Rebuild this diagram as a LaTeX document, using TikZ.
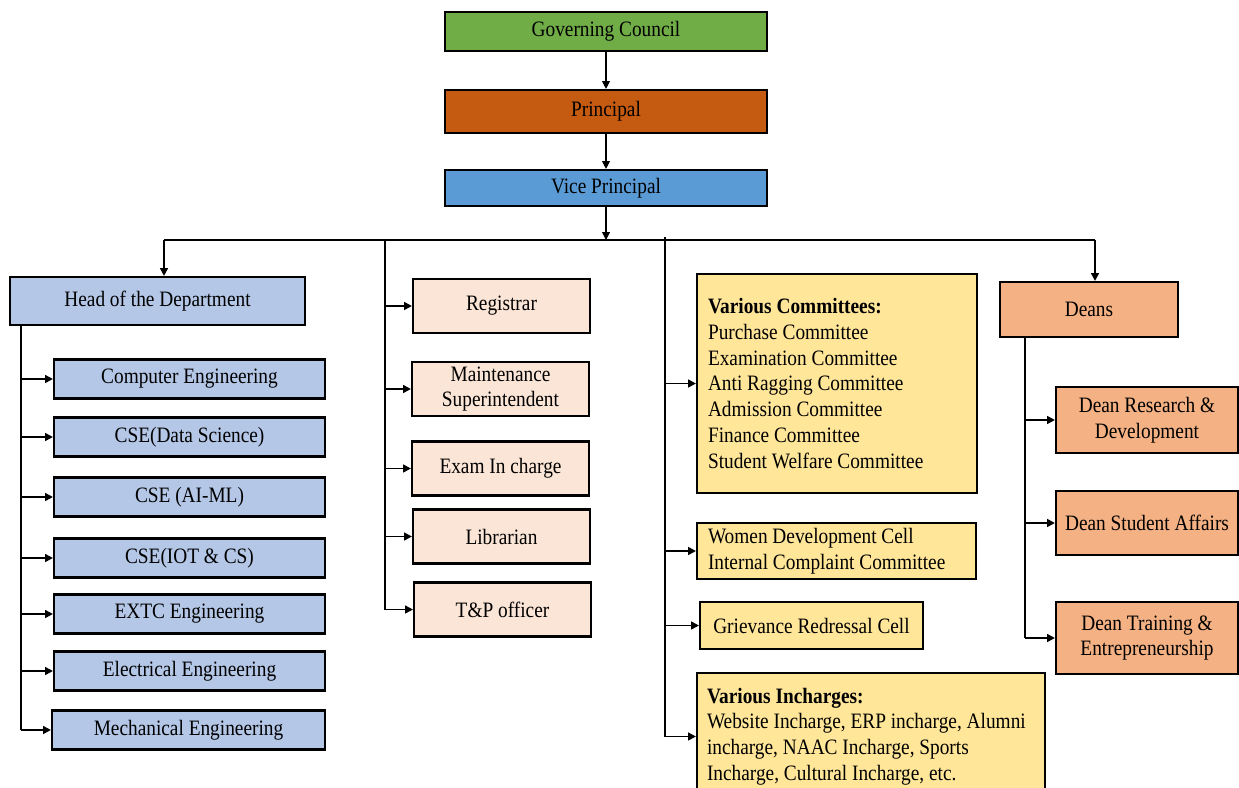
\documentclass[tikz,border=0pt]{standalone}
\usepackage{fontspec}
\setmainfont{Liberation Serif}[FakeStretch=0.88]
\usetikzlibrary{arrows.meta}

\definecolor{councilgreen}{HTML}{70AD47}
\definecolor{principalorange}{HTML}{C55A11}
\definecolor{viceblue}{HTML}{5B9BD5}
\definecolor{deptblue}{HTML}{B4C7E7}
\definecolor{officepeach}{HTML}{FBE5D6}
\definecolor{cellyellow}{HTML}{FFE699}
\definecolor{deanorange}{HTML}{F4B183}

\begin{document}
\begin{tikzpicture}[
  every node/.style={
    draw,
    rectangle,
    line width=1.2pt,
    inner sep=1pt,
    align=center,
    font=\fontsize{12.5pt}{14.7pt}\selectfont
  },
  topbox/.style={minimum width=6.44cm},
  deptbox/.style={fill=deptblue,minimum width=5.42cm,minimum height=0.78cm},
  officebox/.style={fill=officepeach,minimum width=3.54cm,minimum height=1.08cm},
  cellbox/.style={fill=cellyellow,align=flush left,inner xsep=0.22cm},
  deanbox/.style={fill=deanorange,minimum width=3.64cm},
  thinarrow/.style={line width=0.6pt,-{Triangle[length=4.5pt,width=4.5pt]}},
  branch/.style={line width=1pt},
  link/.style={line width=1pt,-{Triangle[length=4.5pt,width=4.5pt]}}
]
\clip (0,0) rectangle (24.78,-15.74);

% top of the chart
\node[topbox,fill=councilgreen,minimum height=0.78cm] at (12.12,-0.63) (council) {Governing Council};
\node[topbox,fill=principalorange,minimum height=0.86cm] at (12.12,-2.23) (principal) {Principal};
\node[topbox,fill=viceblue,minimum height=0.72cm] at (12.12,-3.76) (vice) {Vice Principal};

\coordinate (busL) at (3.28,-4.8);
\coordinate (busR) at (21.9,-4.8);
\coordinate (midline) at (7.7,-4.8);
\coordinate (cellline) at (13.3,-4.74);

% heads of department
\node[fill=deptblue,minimum width=5.9cm,minimum height=0.96cm] at (3.15,-6.02) (hod) {Head of the Department};
\node[deptbox] at (3.79,-7.58) (comp) {Computer Engineering};
\node[deptbox] at (3.79,-8.74) (csds) {CSE(Data Science)};
\node[deptbox] at (3.79,-9.94) (csai) {CSE (AI-ML)};
\node[deptbox] at (3.79,-11.16) (csiot) {CSE(IOT \& CS)};
\node[deptbox] at (3.79,-12.28) (extc) {EXTC Engineering};
\node[deptbox] at (3.79,-13.42) (elec) {Electrical Engineering};
\node[deptbox,minimum width=5.46cm] at (3.77,-14.6) (mech) {Mechanical Engineering};
\coordinate (hodline) at ([xshift=0.24cm]hod.south west);

% offices
\node[officebox] at (10.03,-6.12) (registrar) {Registrar};
\node[officebox] at (10.01,-7.78) (maint) {Maintenance\\Superintendent};
\node[officebox] at (10.01,-9.37) (exam) {Exam In charge};
\node[officebox] at (10.03,-10.73) (librarian) {Librarian};
\node[officebox] at (10.05,-12.19) (tnp) {T\&P officer};

% committees and cells
\node[cellbox,text width=5.16cm,minimum height=4.38cm] at (16.74,-7.67) (committees) {\textbf{Various Committees:}\\Purchase Committee\\Examination Committee\\Anti Ragging Committee\\Admission Committee\\Finance Committee\\Student Welfare Committee};
\node[cellbox,text width=5.14cm,minimum height=1.12cm] at (16.73,-11.02) (women) {Women Development Cell\\Internal Complaint Committee};
\node[fill=cellyellow,minimum width=4.46cm,minimum height=0.94cm] at (16.23,-12.51) (grievance) {Grievance Redressal Cell};
\node[cellbox,text width=6.56cm,inner xsep=0.2cm,minimum height=2.54cm] at (17.42,-14.73) (incharges) {\textbf{Various Incharges:}\\Website Incharge, ERP incharge, Alumni\\incharge, NAAC Incharge, Sports\\Incharge, Cultural Incharge, etc.};

% deans
\node[deanbox,minimum width=3.56cm,minimum height=1.1cm] at (21.78,-6.19) (deans) {Deans};
\node[deanbox,minimum height=1.32cm] at (22.94,-8.4) (research) {Dean Research \&\\Development};
\node[deanbox,minimum height=1.28cm] at (22.94,-10.46) (affairs) {Dean Student Affairs};
\node[deanbox,minimum height=1.44cm] at (22.94,-12.76) (training) {Dean Training \&\\Entrepreneurship};
\coordinate (deanline) at ([xshift=-1.28cm]deans.south);

% connectors
\path[draw,thinarrow] (council) -- (principal);
\path[draw,thinarrow] (principal) -- (vice);
\path[draw,thinarrow] (vice) -- (vice.south |- busL);
\path[draw,branch] (busL) -- (busR);
\path[draw,link] (busL) -- (busL |- hod.north);
\path[draw,link] (busR) -- (busR |- deans.north);

\path[draw,branch] (hodline) -- (hodline |- mech.west);
\path[draw,link] (hodline |- comp.west) -- (comp.west);
\path[draw,link] (hodline |- csds.west) -- (csds.west);
\path[draw,link] (hodline |- csai.west) -- (csai.west);
\path[draw,link] (hodline |- csiot.west) -- (csiot.west);
\path[draw,link] (hodline |- extc.west) -- (extc.west);
\path[draw,link] (hodline |- elec.west) -- (elec.west);
\path[draw,link] (hodline |- mech.west) -- (mech.west);

\path[draw,branch] (midline) -- (midline |- tnp.west);
\path[draw,link] (midline |- registrar.west) -- (registrar.west);
\path[draw,link] (midline |- maint.west) -- (maint.west);
\path[draw,link] (midline |- exam.west) -- (exam.west);
\path[draw,link] (midline |- librarian.west) -- (librarian.west);
\path[draw,link] (midline |- tnp.west) -- (tnp.west);

\path[draw,branch] (cellline) -- (cellline |- incharges.west);
\path[draw,link] (cellline |- committees.west) -- (committees.west);
\path[draw,link] (cellline |- women.west) -- (women.west);
\path[draw,link] (cellline |- grievance.west) -- (grievance.west);
\path[draw,link] (cellline |- incharges.west) -- (incharges.west);

\path[draw,branch] (deanline) -- (deanline |- training.west);
\path[draw,link] (deanline |- research.west) -- (research.west);
\path[draw,link] (deanline |- affairs.west) -- (affairs.west);
\path[draw,link] (deanline |- training.west) -- (training.west);
\end{tikzpicture}
\end{document}
